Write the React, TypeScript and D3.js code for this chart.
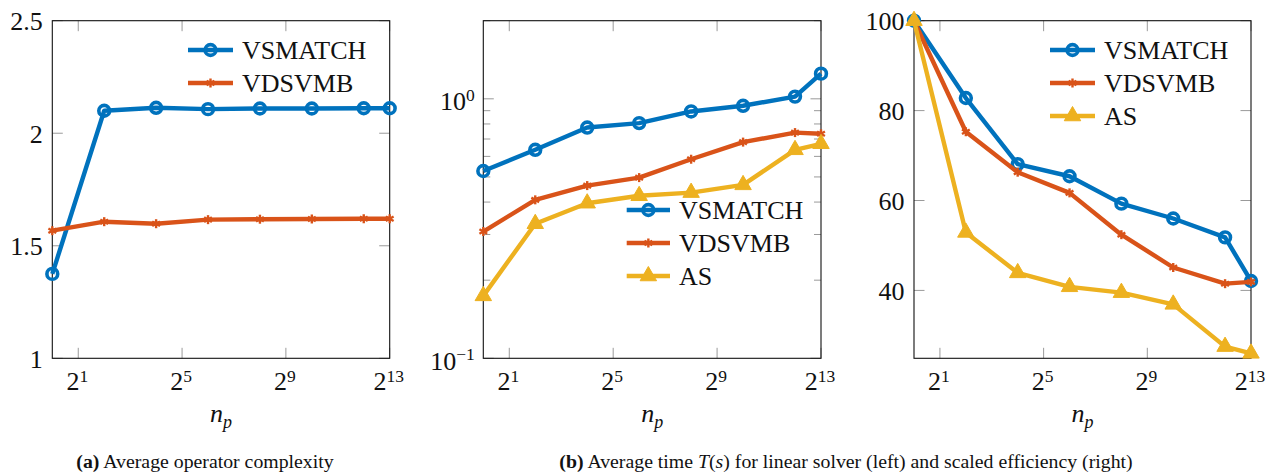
import React from "react";
import * as d3 from "d3";

const NP = [1, 4, 16, 64, 256, 1024, 4096, 8192];
const X_TICK_EXPONENTS = [1, 5, 9, 13];

const complexityVSMATCH = [1.375, 2.1, 2.113, 2.107, 2.11, 2.11, 2.111, 2.111];
const complexityVDSVMB = [1.567, 1.607, 1.598, 1.616, 1.618, 1.619, 1.62, 1.62];

const timeVSMATCH = [0.527, 0.636, 0.775, 0.806, 0.894, 0.94, 1.02, 1.25];
const timeVDSVMB = [0.308, 0.408, 0.463, 0.497, 0.585, 0.681, 0.741, 0.733];
const timeAS = [0.174, 0.33, 0.396, 0.423, 0.435, 0.466, 0.636, 0.671];

const effVSMATCH = [100, 82.8, 68.1, 65.4, 59.3, 56.0, 51.8, 42.1];
const effVDSVMB = [100, 75.3, 66.3, 61.7, 52.4, 45.1, 41.5, 41.9];
const effAS = [100, 52.9, 43.9, 40.8, 39.5, 36.9, 27.5, 26.0];

const SERIES_NAMES = ["VSMATCH", "VDSVMB", "AS"];
const COLORS = ["#0072BD", "#D95319", "#EDB120"];
const MARKERS = ["circle", "asterisk", "triangle"];

const captionA = "Average operator complexity";
const captionB = "for linear solver (left) and scaled efficiency (right)";

const FONT = "Liberation Serif, Times New Roman, DejaVu Serif, serif";
const TICK_GREY = "#9a9a9a";
const TOP = 20.7;
const BOTTOM = 358.3;
const TXT = { fontFamily: FONT };

function Marker({ type, x, y, color }) {
  if (type === "circle") {
    return <circle cx={x} cy={y} r={5.4} fill="none" stroke={color} strokeWidth={3.6} />;
  }
  if (type === "asterisk") {
    const r = 4.5;
    const arms = [90, 30, -30].map((a) => {
      const rad = (a * Math.PI) / 180;
      return (
        <line
          key={a}
          x1={x - r * Math.cos(rad)}
          y1={y - r * Math.sin(rad)}
          x2={x + r * Math.cos(rad)}
          y2={y + r * Math.sin(rad)}
          stroke={color}
          strokeWidth={2.4}
        />
      );
    });
    return <g>{arms}</g>;
  }
  const r = 9.5;
  const pts = [
    [x, y - r],
    [x + r * 0.866, y + r / 2],
    [x - r * 0.866, y + r / 2],
  ];
  return <polygon points={pts.map((p) => p.join(",")).join(" ")} fill={color} stroke={color} strokeWidth={1} strokeLinejoin="round" />;
}

function Panel({ left, right, series, yScaleType, yDomain, yTicks, yTickLabel, minorTicks, legend }) {
  const x = d3.scaleLog().base(2).domain([1, 8192]).range([left, right]);
  const y =
    yScaleType === "log"
      ? d3.scaleLog().domain(yDomain).range([BOTTOM, TOP])
      : d3.scaleLinear().domain(yDomain).range([BOTTOM, TOP]);
  const line = d3
    .line()
    .x((d) => x(d[0]))
    .y((d) => y(d[1]));
  const cx = (left + right) / 2;
  return (
    <g>
      {X_TICK_EXPONENTS.map((e) => {
        const tx = x(Math.pow(2, e));
        return (
          <g key={"xt" + e}>
            <line x1={tx} x2={tx} y1={BOTTOM} y2={BOTTOM - 10.5} stroke={TICK_GREY} strokeWidth={1} />
            <line x1={tx} x2={tx} y1={TOP} y2={TOP + 10.5} stroke={TICK_GREY} strokeWidth={1} />
            <text x={tx - 1} y={390} textAnchor="middle" fontSize={26} style={TXT} fill="#111">
              2<tspan dy={-8.5} fontSize={17.5}>{e}</tspan>
            </text>
          </g>
        );
      })}
      {yTicks.map((v, i) => {
        const ty = y(v);
        return (
          <g key={"yt" + i}>
            <line x1={left} x2={left + 10.5} y1={ty} y2={ty} stroke={TICK_GREY} strokeWidth={1} />
            <line x1={right} x2={right - 10.5} y1={ty} y2={ty} stroke={TICK_GREY} strokeWidth={1} />
            {yTickLabel(v, left - 9.5, ty)}
          </g>
        );
      })}
      {minorTicks.map((v, i) => {
        const ty = y(v);
        return (
          <g key={"mt" + i}>
            <line x1={left} x2={left + 7} y1={ty} y2={ty} stroke={TICK_GREY} strokeWidth={1} />
            <line x1={right} x2={right - 7} y1={ty} y2={ty} stroke={TICK_GREY} strokeWidth={1} />
          </g>
        );
      })}
      <rect x={left} y={TOP} width={right - left} height={BOTTOM - TOP} fill="none" stroke="#111" strokeWidth={1.1} />
      {series.map((s, si) => {
        const pts = NP.map((n, i) => [n, s.values[i]]);
        return (
          <g key={"s" + si}>
            <path d={line(pts)} fill="none" stroke={COLORS[s.idx]} strokeWidth={4.4} strokeLinejoin="round" />
            {pts.map((p, i) => (
              <Marker key={i} type={MARKERS[s.idx]} x={x(p[0])} y={y(p[1])} color={COLORS[s.idx]} />
            ))}
          </g>
        );
      })}
      {series.map((s, si) => {
        const ly = legend.y + si * 33;
        return (
          <g key={"l" + si}>
            <line x1={legend.x1} x2={legend.x2} y1={ly} y2={ly} stroke={COLORS[s.idx]} strokeWidth={4.4} />
            <Marker type={MARKERS[s.idx]} x={(legend.x1 + legend.x2) / 2} y={ly} color={COLORS[s.idx]} />
            <text x={legend.x2 + 9} y={ly + 8.5} fontSize={26} style={TXT} fill="#111">
              {SERIES_NAMES[s.idx]}
            </text>
          </g>
        );
      })}
      <text x={cx - 11} y={422} fontSize={26} style={TXT} fontStyle="italic" fill="#111">
        n<tspan dy={6} fontSize={18}>p</tspan>
      </text>
    </g>
  );
}

const plainLabel = (fmt) => (v, x, y) => (
  <text x={x} y={y + 9.5} textAnchor="end" fontSize={26} style={TXT} fill="#111">
    {fmt(v)}
  </text>
);

const powLabel = (v, x, y) => {
  const e = Math.round(Math.log10(v));
  return (
    <text x={x + 1} y={y + 11.5} textAnchor="end" fontSize={26} style={TXT} fill="#111">
      10<tspan dy={-9.5} fontSize={17.5}>{e < 0 ? "\u2212" + Math.abs(e) : String(e)}</tspan>
    </text>
  );
};

export default function App() {
  const minor = [];
  [0.1, 1].forEach((base) => {
    for (let k = 2; k <= 9; k++) {
      const v = base * k;
      if (v <= 2) minor.push(v);
    }
  });
  return (
    <svg width={1275} height={473} style={{ position: "absolute", left: 0, top: 0, background: "#fff", fontFamily: FONT }}>
      <rect x={0} y={0} width={1275} height={473} fill="#fff" />
      <Panel
        left={52.3}
        right={389.7}
        yScaleType="linear"
        yDomain={[1, 2.5]}
        yTicks={[1, 1.5, 2, 2.5]}
        yTickLabel={plainLabel((v) => String(v))}
        minorTicks={[]}
        series={[
          { idx: 0, values: complexityVSMATCH },
          { idx: 1, values: complexityVDSVMB },
        ]}
        legend={{ x1: 188, x2: 233, y: 50 }}
      />
      <Panel
        left={483.3}
        right={821}
        yScaleType="log"
        yDomain={[0.1, 2]}
        yTicks={[0.1, 1]}
        yTickLabel={powLabel}
        minorTicks={minor}
        series={[
          { idx: 0, values: timeVSMATCH },
          { idx: 1, values: timeVDSVMB },
          { idx: 2, values: timeAS },
        ]}
        legend={{ x1: 626.7, x2: 670, y: 210 }}
      />
      <Panel
        left={914}
        right={1251}
        yScaleType="linear"
        yDomain={[24.9, 100]}
        yTicks={[40, 60, 80, 100]}
        yTickLabel={plainLabel((v) => String(v))}
        minorTicks={[]}
        series={[
          { idx: 0, values: effVSMATCH },
          { idx: 1, values: effVDSVMB },
          { idx: 2, values: effAS },
        ]}
        legend={{ x1: 1050, x2: 1095, y: 50 }}
      />
      <text x={205} y={468} textAnchor="middle" fontSize={19.8} style={TXT} fill="#111">
        <tspan fontWeight="bold">(a)</tspan> {captionA}
      </text>
      <text x={846} y={468} textAnchor="middle" fontSize={19.8} style={TXT} fill="#111">
        <tspan fontWeight="bold">(b)</tspan> Average time <tspan fontStyle="italic">T</tspan>(<tspan fontStyle="italic">s</tspan>) {captionB}
      </text>
    </svg>
  );
}
